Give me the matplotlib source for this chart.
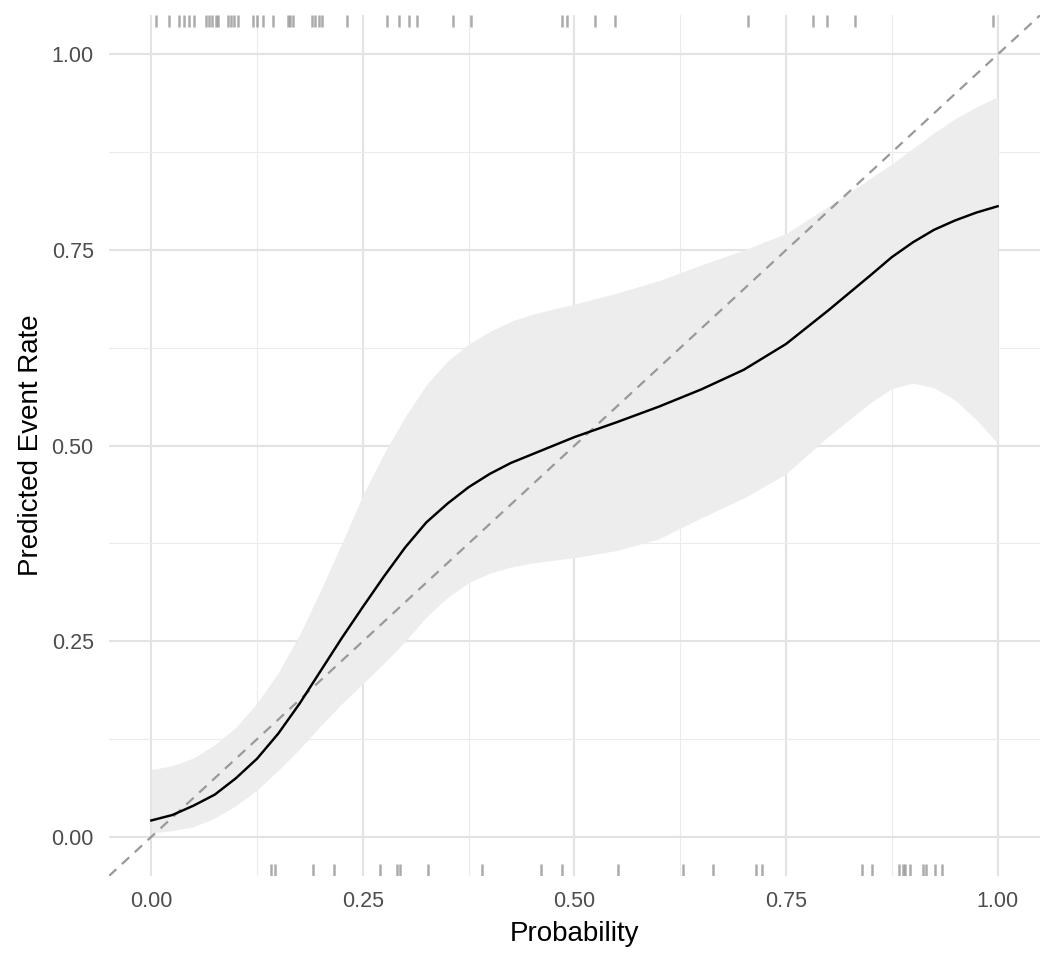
import numpy as np
import matplotlib.pyplot as plt
from matplotlib.ticker import MultipleLocator

# calibration curve
prob = [0.00, 0.025, 0.05, 0.075, 0.10, 0.125, 0.15, 0.175, 0.20, 0.225, 0.25, 0.275, 0.30,
        0.325, 0.35, 0.375, 0.40, 0.425, 0.45, 0.50, 0.55, 0.60, 0.65, 0.70, 0.75, 0.80, 0.85,
        0.875, 0.90, 0.925, 0.95, 0.975, 1.00]
rate = [0.021, 0.028, 0.040, 0.054, 0.075, 0.100, 0.132, 0.170, 0.212, 0.254, 0.294, 0.333, 0.370,
        0.402, 0.426, 0.447, 0.464, 0.478, 0.489, 0.511, 0.530, 0.550, 0.572, 0.597, 0.630, 0.673,
        0.718, 0.741, 0.760, 0.776, 0.788, 0.798, 0.806]
upper = [0.086, 0.091, 0.101, 0.118, 0.140, 0.171, 0.210, 0.258, 0.315, 0.375, 0.437, 0.490, 0.537,
         0.578, 0.608, 0.630, 0.646, 0.659, 0.668, 0.681, 0.695, 0.711, 0.731, 0.750, 0.771, 0.806,
         0.842, 0.860, 0.880, 0.900, 0.918, 0.933, 0.946]
lower = [0.005, 0.008, 0.013, 0.024, 0.040, 0.060, 0.085, 0.112, 0.142, 0.170, 0.196, 0.222, 0.250,
         0.281, 0.306, 0.325, 0.337, 0.345, 0.350, 0.357, 0.366, 0.381, 0.408, 0.433, 0.464, 0.512,
         0.555, 0.573, 0.580, 0.574, 0.558, 0.533, 0.503]

# observed events (rug)
events_1 = [0.006, 0.021, 0.033, 0.039, 0.045, 0.051, 0.065, 0.068, 0.072, 0.076, 0.079,
            0.091, 0.094, 0.098, 0.102, 0.120, 0.125, 0.132, 0.144, 0.161, 0.164, 0.168,
            0.190, 0.194, 0.198, 0.202, 0.231, 0.279, 0.293, 0.305, 0.314, 0.357, 0.378,
            0.485, 0.491, 0.524, 0.548, 0.705, 0.782, 0.798, 0.831, 0.994]
events_0 = [0.142, 0.146, 0.191, 0.216, 0.270, 0.290, 0.294, 0.327, 0.391, 0.460, 0.485,
            0.552, 0.628, 0.664, 0.715, 0.722, 0.840, 0.852, 0.884, 0.888, 0.891, 0.896,
            0.912, 0.915, 0.926, 0.934]

plt.rcParams["font.family"] = ["Liberation Sans", "DejaVu Sans"]

fig = plt.figure(figsize=(10.56, 9.6), dpi=100)
ax = fig.add_axes([0.1032, 0.0875, 0.8816, 0.8965])

ax.fill_between(prob, lower, upper, color="#EDEDED", lw=0, zorder=2)
ax.axline((0, 0), (1, 1), color="#999999", lw=1.6, ls=(0, (4.5, 3.4)), zorder=3)
ax.plot(prob, rate, color="black", lw=1.75, zorder=4)

trans = ax.get_xaxis_transform()
for x in events_1:
    ax.plot([x, x], [1.0, 0.987], transform=trans, color="#7f7f7f", alpha=0.65, lw=1.8,
            solid_capstyle="butt", zorder=5)
for x in events_0:
    ax.plot([x, x], [0.0, 0.0135], transform=trans, color="#7f7f7f", alpha=0.65, lw=1.8,
            solid_capstyle="butt", zorder=5)

ax.set_xlim(-0.05, 1.05)
ax.set_ylim(-0.05, 1.05)
ax.xaxis.set_minor_locator(MultipleLocator(0.125))
ax.yaxis.set_minor_locator(MultipleLocator(0.125))
ax.set_xticks([0, 0.25, 0.5, 0.75, 1.0])
ax.set_yticks([0, 0.25, 0.5, 0.75, 1.0])
ax.set_xticklabels(["0.00", "0.25", "0.50", "0.75", "1.00"])
ax.set_yticklabels(["0.00", "0.25", "0.50", "0.75", "1.00"])
ax.grid(which="major", color="#E3E3E3", lw=1.5, zorder=0)
ax.grid(which="minor", color="#EBEBEB", lw=0.8, zorder=0)
ax.set_axisbelow(True)
ax.tick_params(which="both", length=0, labelsize=15.5, labelcolor="#4D4D4D", pad=11)
for s in ax.spines.values():
    s.set_visible(False)

ax.set_xlabel("Probability", fontsize=20, labelpad=6)
ax.set_ylabel("Predicted Event Rate", fontsize=20, labelpad=5.5)

fig.savefig("out.png", dpi=100)
